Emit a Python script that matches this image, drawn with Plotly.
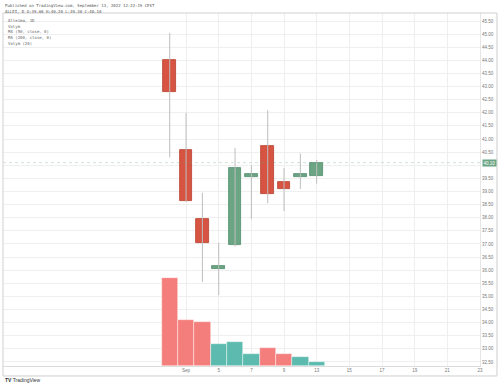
import plotly.graph_objects as go

# ---- data ----
dates = ["2022-08-31", "2022-09-01", "2022-09-02", "2022-09-05", "2022-09-06",
         "2022-09-07", "2022-09-08", "2022-09-09", "2022-09-12", "2022-09-13"]
open_ = [44.00, 40.60, 37.95, 36.05, 36.95, 39.55, 40.75, 39.35, 39.55, 39.60]
high = [45.05, 42.00, 38.95, 37.05, 40.65, 40.00, 42.10, 39.90, 40.45, 40.20]
low = [40.30, 38.60, 35.55, 35.05, 36.90, 37.95, 38.55, 38.25, 39.10, 39.30]
close = [42.80, 38.65, 37.05, 36.15, 39.90, 39.65, 38.90, 39.10, 39.65, 40.10]
volume = [8.80, 4.60, 4.40, 2.20, 2.40, 1.20, 1.85, 1.20, 0.90, 0.43]  # millions

time_tick_index = [1, 3, 5, 7, 9, 11, 13, 15, 17, 19]
time_tick_text = ["Sep", "5", "7", "9", "13", "15", "17", "19", "21", "23"]
price_ticks = [32.5 + 0.5 * i for i in range(27)]

header1 = "Published on TradingView.com, September 13, 2022 12:22:19 CEST"
header2 = "ALLEI, D O:39.60 H:40.20 L:39.30 C:40.10"
legend_lines = ["Alleima, 1D", "Volym", "MA (50, close, 0)", "MA (200, close, 0)", "Volym (20)"]

# ---- styles ----
UP, DOWN = "#6ba583", "#d75442"
UP_BORDER, DOWN_BORDER = "#4f8c69", "#b8402f"
VOL_UP, VOL_DOWN = "#5cbaae", "#f37e7c"
WICK = "#bdbdbd"
MONO = "DejaVu Sans Mono"

x = list(range(len(dates)))
is_up = [c >= o for o, c in zip(open_, close)]

fig = go.Figure()

# volume (secondary axis)
fig.add_trace(go.Bar(
    x=x, y=volume, yaxis="y2", width=1.0,
    marker=dict(color=[VOL_UP if u else VOL_DOWN for u in is_up],
                line=dict(color="rgba(255,255,255,0.7)", width=0.6)),
    hoverinfo="skip", showlegend=False))

# wicks
wx, wy = [], []
for i, h, l in zip(x, high, low):
    wx += [i, i, None]
    wy += [l, h, None]
fig.add_trace(go.Scatter(x=wx, y=wy, mode="lines", line=dict(color=WICK, width=1),
                         hoverinfo="skip", showlegend=False))

# bodies
fig.add_trace(go.Bar(
    x=x, y=[abs(c - o) for o, c in zip(open_, close)],
    base=[min(o, c) for o, c in zip(open_, close)], width=0.78,
    marker=dict(color=[UP if u else DOWN for u in is_up],
                line=dict(color=[UP_BORDER if u else DOWN_BORDER for u in is_up], width=0.8)),
    hoverinfo="skip", showlegend=False))

last = close[-1]
# last price line
fig.add_shape(type="line", xref="paper", x0=0, x1=1, yref="y", y0=last, y1=last,
              line=dict(color="rgba(107,165,131,0.45)", width=0.7, dash="dot"))

price_text = ["" if abs(p - last) < 0.25 else f"{p:.2f}" for p in price_ticks]

fig.update_layout(
    width=500, height=386,
    margin=dict(l=3, r=20, t=13, b=20),
    paper_bgcolor="white", plot_bgcolor="white",
    barmode="overlay", bargap=0,
    xaxis=dict(range=[-10.21, 19.0], tickvals=time_tick_index, ticktext=time_tick_text,
               showgrid=True, gridcolor="#efefef", gridwidth=1, zeroline=False,
               showline=True, linecolor="#dcdcdc", linewidth=1, ticks="", automargin=False,
               tickfont=dict(family="Liberation Sans", size=4.5, color="#777")),
    yaxis=dict(range=[32.347, 45.805], side="right", tickvals=price_ticks, ticktext=price_text,
               showgrid=True, gridcolor="#efefef", gridwidth=1, automargin=False,
               zeroline=False, ticks="", showline=True, linecolor="#e6e6e6", linewidth=1,
               tickfont=dict(family="Liberation Sans", size=4.5, color="#777")),
    yaxis2=dict(range=[0, 35.3], overlaying="y", visible=False),
    showlegend=False,
)

# frame
fig.add_shape(type="rect", xref="paper", yref="paper", x0=0, x1=1.0356, y0=-0.0283, y1=1.0,
              line=dict(color="#cfcfcf", width=1), layer="above")

# header
fig.add_annotation(text=header1, xref="paper", yref="paper", x=0, y=1, yshift=8,
                   xanchor="left", yanchor="middle", showarrow=False,
                   font=dict(family=MONO, size=4, color="#555"))
fig.add_annotation(text=header2, xref="paper", yref="paper", x=0, y=1, yshift=2,
                   xanchor="left", yanchor="middle", showarrow=False,
                   font=dict(family=MONO, size=4, color="#555"))
# legend lines
for k, t in enumerate(legend_lines):
    fig.add_annotation(text=t, xref="paper", yref="paper", x=0, xshift=3, y=1,
                       yshift=-7.7 - 5.6 * k, xanchor="left", yanchor="middle", showarrow=False,
                       font=dict(family=MONO, size=4, color="#666"))

# last price label
fig.add_annotation(text=f"{last:.2f}", xref="paper", x=1, xshift=2, yref="y", y=last,
                   xanchor="left", yanchor="middle", showarrow=False, bgcolor=UP,
                   borderpad=0.5, font=dict(family="Liberation Sans", size=4.5, color="white"))

# logo
fig.add_annotation(text="<b>TV</b> TradingView", xref="paper", yref="paper", x=0, y=0,
                   yshift=-14, xanchor="left", yanchor="middle", showarrow=False,
                   font=dict(family="Liberation Sans", size=5, color="#333"))

fig.write_html("out.html", config={"displayModeBar": False},
               post_script="document.body.style.margin='0';")
